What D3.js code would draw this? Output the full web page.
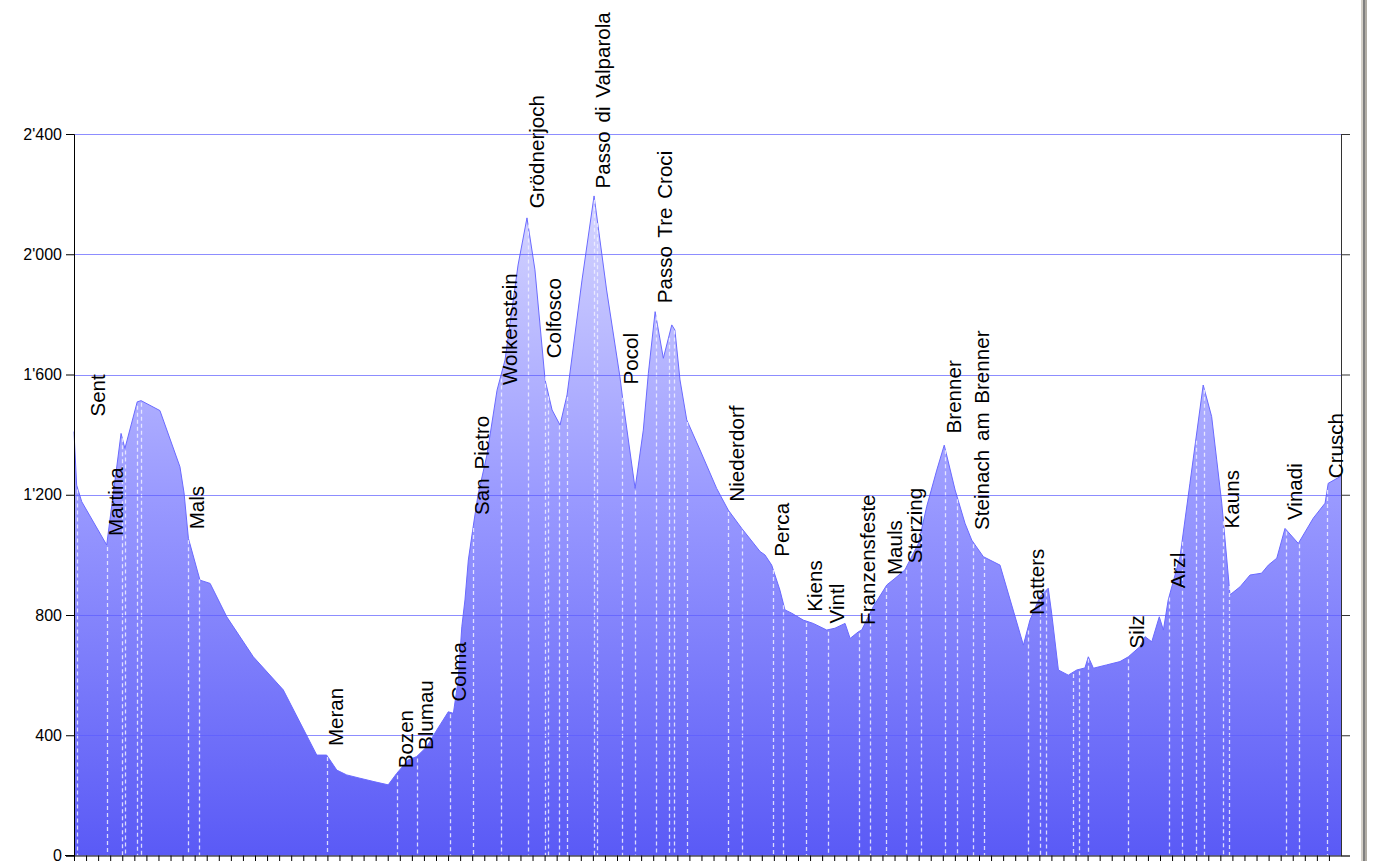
<!DOCTYPE html>
<html>
<head>
<meta charset="utf-8">
<script src="https://cdn.jsdelivr.net/npm/d3@7"></script>
<style>
  body { margin: 0; background: #fff; overflow: hidden; }
  svg { display: block; }
</style>
</head>
<body>
<div id="chart"></div>
<script>
// Elevation profile: distance (km) and altitude (m)
const profileKm = [0, 1.1, 3.2, 13.55, 19.5, 21.1, 26.2, 27.8, 35.6, 43.9, 45.6, 47.4, 52.2, 56.4, 63.3, 74.3, 86.7,
  100.6, 104.7, 108.9, 113.0, 118.5, 124.7, 130.2, 133.7, 138.5, 142.0, 146.2, 150.3, 155.1, 157.2, 159.2, 160.7,
  162.0, 163.4, 165.5, 167.4, 171.1, 175.3, 178.6, 184.0, 187.7, 191.0, 195.2, 198.1, 201.4, 204.3, 205.5, 210.5,
  215.5, 220.7, 226.2, 227.6, 232.5, 235.9, 238.0, 240.8, 244.2, 247.7, 249.0, 251.1, 253.9, 259.4, 266.3, 271.1,
  276.7, 284.3, 286.3, 289.1, 292.5, 294.6, 297.4, 302.2, 306.3, 311.9, 315.3, 319.5, 321.6, 325.0, 326.4, 331.2,
  336.8, 340.2, 344.3, 349.9, 353.3, 357.5, 360.6, 365.1, 369.2, 372.0, 376.8, 383.7, 393.4, 396.1, 400.3, 403.7,
  405.1, 407.9, 412.0, 415.5, 418.9, 420.3, 422.4, 427.9, 433.4, 436.9, 441.7, 443.8, 446.6, 449.7, 451.4, 453.4,
  458.3, 462.4, 467.9, 471.4, 473.5, 475.6, 479.0, 483.2, 487.3, 492.1, 494.9, 498.4, 501.8, 507.3, 513.5, 518.4,
  519.7, 525];
const profileElev = [1410, 1232, 1177, 1033, 1404, 1354, 1509, 1513, 1480, 1293, 1206, 1055, 916, 905, 794, 661, 551,
  334, 334, 284, 268, 257, 245, 235, 273, 318, 329, 362, 417, 478, 473, 584, 761,
  850, 983, 1099, 1199, 1332, 1548, 1648, 1964, 2121, 1948, 1582, 1482, 1432, 1532, 1605, 1914,
  2194, 1881, 1593, 1504, 1221, 1415, 1604, 1809, 1654, 1765, 1748, 1582, 1449, 1349, 1221, 1149,
  1088, 1011, 1000, 966, 883, 817, 806, 783, 772, 750, 756, 772, 722, 744, 750, 828,
  900, 922, 950, 1038, 1160, 1282, 1365, 1216, 1105, 1049, 994, 966, 700, 783, 861, 889,
  806, 617, 600, 617, 624, 661, 623, 634, 645, 661, 695, 728, 711, 794, 750, 850,
  994, 1238, 1565, 1460, 1316, 1172, 867, 894, 933, 939, 966, 989, 1088, 1038, 1122, 1172,
  1238, 1262];

// Waypoints marked with dashed lines (km)
const waypointKm = [1.4, 13.55, 19.8, 21.1, 26.0, 27.6, 47.4, 51.9, 104.7, 133.8, 142.05, 155.8, 165.45, 176.8,
  188.0, 195.0, 196.6, 201.05, 204.3, 215.6, 216.9, 227.2, 232.5, 241.0, 246.55, 248.6, 253.9, 271.1, 276.7,
  289.5, 293.9, 303.3, 312.3, 325.4, 329.8, 336.5, 344.75, 351.0, 360.9, 366.0, 372.6, 377.1, 395.2, 400.3,
  402.8, 414.1, 416.6, 420.3, 436.6, 453.9, 459.25, 464.9, 468.2, 476.2, 478.6, 502.2, 507.6, 519.4];

// Named places
const placeNames = ['Sent', 'Martina', 'Mals', 'Meran', 'Bozen', 'Blumau', 'Colma', 'San Pietro', 'Wolkenstein',
  'Grödnerjoch', 'Colfosco', 'Passo di Valparola', 'Pocol', 'Passo Tre Croci', 'Niederdorf', 'Perca', 'Kiens',
  'Vintl', 'Franzensfeste', 'Mauls', 'Sterzing', 'Brenner', 'Steinach am Brenner', 'Natters', 'Silz', 'Arzl',
  'Kauns', 'Vinadi', 'Crusch'];
const placeKm = [6.2, 13.55, 47.4, 104.7, 133.8, 142.05, 155.8, 165.45, 176.8, 188.0, 195.0, 215.6, 227.2, 241.0,
  271.1, 289.5, 303.3, 312.3, 325.4, 336.5, 344.75, 360.9, 372.6, 395.2, 436.6, 453.9, 476.2, 502.2, 519.4];
const placeElev = [1430, 1033, 1055, 334, 260, 321, 482, 1103, 1535, 2123, 1624, 2189, 1537, 1807, 1147, 964, 781,
  742, 737, 903, 942, 1374, 1053, 770, 659, 859, 1058, 1086, 1225];

const yTicks = [0, 400, 800, 1200, 1600, 2000, 2400];
const totalKm = 525;
const kmStep = 5;

const W = 1380, H = 861;
const margin = { left: 74, right: 39, top: 134, bottom: 5.5 };

const svg = d3.select('#chart').append('svg')
  .attr('width', W)
  .attr('height', H);

const x = d3.scaleLinear().domain([0, totalKm]).range([margin.left, W - margin.right]);
const y = d3.scaleLinear().domain([0, 2400]).range([H - margin.bottom, margin.top]);

// elevation along the route, linear between profile points
const elevAt = d3.scaleLinear().domain(profileKm).range(profileElev);

const fmt = d3.formatLocale({ decimal: '.', thousands: "'", grouping: [3], currency: ['', ''] }).format(',');

const profile = profileKm.map((k, i) => ({ km: k, elev: profileElev[i] }));

// --- Fill gradient (dark at the bottom, pale at the top) ---
const defs = svg.append('defs');
const grad = defs.append('linearGradient')
  .attr('id', 'fillGrad')
  .attr('gradientUnits', 'userSpaceOnUse')
  .attr('x1', 0).attr('x2', 0)
  .attr('y1', y(0)).attr('y2', y(2400));
grad.append('stop').attr('offset', '0%').attr('stop-color', '#5a5af6');
grad.append('stop').attr('offset', '50%').attr('stop-color', '#9a9aff');
grad.append('stop').attr('offset', '100%').attr('stop-color', '#e2e2ff');

const area = d3.area()
  .x(d => x(d.km))
  .y0(y(0))
  .y1(d => y(d.elev));

svg.append('path')
  .datum(profile)
  .attr('d', area)
  .attr('fill', 'url(#fillGrad)');

svg.append('path')
  .datum(profile)
  .attr('d', d3.line().x(d => x(d.km)).y(d => y(d.elev)))
  .attr('fill', 'none')
  .attr('stroke', '#6a6aff')
  .attr('stroke-width', 1);

// --- Dashed waypoint lines ---
svg.append('g')
  .selectAll('line')
  .data(waypointKm)
  .join('line')
  .attr('x1', d => Math.round(x(d)) + 0.5).attr('x2', d => Math.round(x(d)) + 0.5)
  .attr('y1', d => y(elevAt(d)) + 2)
  .attr('y2', y(0))
  .attr('stroke', '#f0f0ff')
  .attr('stroke-opacity', 0.85)
  .attr('stroke-width', 1.3)
  .attr('stroke-dasharray', '4,3');

// --- Horizontal gridlines ---
svg.append('g')
  .selectAll('line')
  .data(yTicks.filter(t => t > 0))
  .join('line')
  .attr('x1', x(0)).attr('x2', x(totalKm))
  .attr('y1', d => Math.round(y(d)) + 0.5).attr('y2', d => Math.round(y(d)) + 0.5)
  .attr('stroke', '#5c5cff')
  .attr('stroke-opacity', 0.7)
  .attr('stroke-width', 1);

// --- Axes ---
const yAxisL = d3.axisLeft(y).tickValues(yTicks).tickSize(8).tickPadding(4).tickFormat(fmt);
const gL = svg.append('g')
  .attr('transform', `translate(${x(0)},0)`)
  .call(yAxisL);
gL.select('.domain').attr('stroke', '#000');
gL.selectAll('.tick line').attr('stroke', '#000');
gL.selectAll('text')
  .attr('font-family', 'Liberation Sans, Arial, sans-serif')
  .attr('font-size', '16px')
  .attr('fill', '#000');

const yAxisR = d3.axisRight(y).tickValues(yTicks).tickSize(9).tickFormat('');
const gR = svg.append('g')
  .attr('transform', `translate(${x(totalKm)},0)`)
  .call(yAxisR);
gR.select('.domain').attr('stroke', '#333');
gR.selectAll('.tick line').attr('stroke', '#333');

const xAxis = d3.axisBottom(x)
  .tickValues(d3.range(0, totalKm, kmStep))
  .tickSize(7)
  .tickSizeOuter(0)
  .tickFormat('');
const gX = svg.append('g')
  .attr('transform', `translate(0,${y(0)})`)
  .call(xAxis);
gX.select('.domain').attr('stroke', '#000');
gX.selectAll('.tick line').attr('stroke', '#000');
// axis line continues to the left under the zero tick
svg.append('line')
  .attr('x1', x(0) - 9).attr('x2', x(0))
  .attr('y1', y(0)).attr('y2', y(0))
  .attr('stroke', '#000');

// --- Place names ---
svg.append('g')
  .selectAll('text')
  .data(placeNames)
  .join('text')
  .attr('transform', (d, i) => `translate(${x(placeKm[i]) + 16},${y(placeElev[i]) - 9}) rotate(-90)`)
  .attr('font-family', 'Liberation Sans, Arial, sans-serif')
  .attr('font-size', '20.6px')
  .attr('word-spacing', '3px')
  .attr('fill', '#000')
  .text(d => d);

// --- Window edge on the right ---
svg.append('rect').attr('x', 1361).attr('y', 0).attr('width', 2).attr('height', H).attr('fill', '#d4d0c8');
svg.append('rect').attr('x', 1363).attr('y', 0).attr('width', 2).attr('height', H).attr('fill', '#808080');
svg.append('rect').attr('x', 1365).attr('y', 0).attr('width', 2).attr('height', H).attr('fill', '#b0aca4');
</script>
</body>
</html>
